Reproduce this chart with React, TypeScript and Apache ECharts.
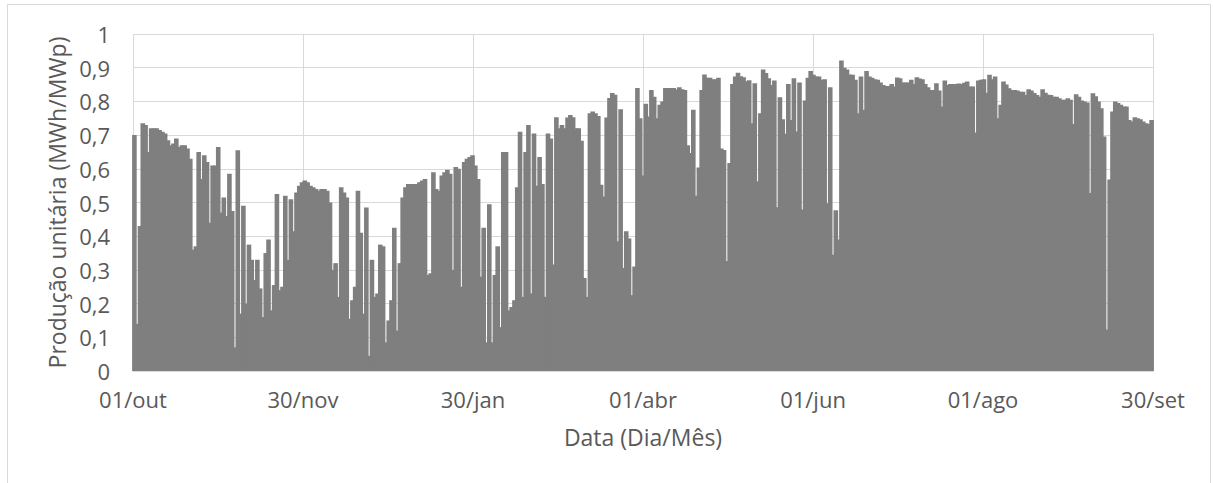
import React, { useEffect, useRef } from "react";
import * as echarts from "echarts";

// Daily peak unit production (MWh/MWp), one array per month, 01/out -> 30/set
const outubro = [0.70, 0.14, 0.43, 0.735, 0.73, 0.65, 0.72, 0.72, 0.72, 0.715, 0.71, 0.705, 0.685, 0.67, 0.675, 0.69, 0.665, 0.67, 0.67, 0.66, 0.63, 0.36, 0.37, 0.65, 0.57, 0.64, 0.62, 0.44, 0.61, 0.61, 0.665];
const novembro = [0.47, 0.515, 0.46, 0.585, 0.475, 0.07, 0.655, 0.17, 0.49, 0.2, 0.375, 0.33, 0.27, 0.33, 0.245, 0.16, 0.35, 0.39, 0.18, 0.255, 0.525, 0.24, 0.25, 0.52, 0.33, 0.51, 0.415, 0.53, 0.55, 0.56];
const dezembro = [0.565, 0.56, 0.55, 0.545, 0.54, 0.535, 0.54, 0.54, 0.535, 0.5, 0.3, 0.32, 0.22, 0.545, 0.53, 0.515, 0.155, 0.21, 0.25, 0.535, 0.41, 0.17, 0.485, 0.045, 0.33, 0.22, 0.23, 0.375, 0.37, 0.085, 0.15];
const janeiro = [0.21, 0.425, 0.12, 0.32, 0.515, 0.545, 0.555, 0.555, 0.555, 0.555, 0.56, 0.565, 0.57, 0.285, 0.29, 0.59, 0.54, 0.535, 0.58, 0.59, 0.597, 0.585, 0.30, 0.605, 0.60, 0.25, 0.62, 0.63, 0.635, 0.64, 0.61];
const fevereiro = [0.57, 0.28, 0.425, 0.085, 0.495, 0.085, 0.285, 0.37, 0.13, 0.65, 0.65, 0.18, 0.19, 0.21, 0.545, 0.71, 0.22, 0.65, 0.73, 0.23, 0.705, 0.55, 0.635, 0.555, 0.22, 0.705, 0.69, 0.316];
const marco = [0.753, 0.72, 0.73, 0.72, 0.752, 0.76, 0.753, 0.72, 0.72, 0.683, 0.276, 0.22, 0.765, 0.77, 0.765, 0.757, 0.553, 0.518, 0.752, 0.81, 0.825, 0.82, 0.385, 0.777, 0.306, 0.415, 0.393, 0.225, 0.31, 0.84, 0.75];
const abril = [0.58, 0.793, 0.755, 0.834, 0.814, 0.75, 0.79, 0.80, 0.84, 0.84, 0.84, 0.84, 0.835, 0.842, 0.836, 0.834, 0.67, 0.647, 0.775, 0.52, 0.604, 0.834, 0.88, 0.87, 0.87, 0.866, 0.866, 0.87, 0.66, 0.656];
const maio = [0.326, 0.617, 0.852, 0.874, 0.885, 0.875, 0.872, 0.86, 0.863, 0.735, 0.854, 0.563, 0.765, 0.895, 0.884, 0.869, 0.849, 0.862, 0.486, 0.812, 0.747, 0.704, 0.852, 0.745, 0.869, 0.711, 0.856, 0.479, 0.803, 0.87, 0.89];
const junho = [0.879, 0.874, 0.874, 0.864, 0.866, 0.498, 0.842, 0.345, 0.477, 0.39, 0.921, 0.90, 0.895, 0.88, 0.879, 0.864, 0.765, 0.874, 0.775, 0.89, 0.874, 0.87, 0.866, 0.864, 0.856, 0.849, 0.846, 0.846, 0.852, 0.844];
const julho = [0.871, 0.869, 0.856, 0.856, 0.856, 0.864, 0.852, 0.872, 0.868, 0.866, 0.852, 0.842, 0.834, 0.834, 0.854, 0.832, 0.785, 0.862, 0.849, 0.852, 0.852, 0.852, 0.853, 0.852, 0.855, 0.859, 0.844, 0.844, 0.708, 0.862, 0.864];
const agosto = [0.866, 0.826, 0.879, 0.866, 0.874, 0.75, 0.79, 0.859, 0.85, 0.839, 0.834, 0.834, 0.832, 0.829, 0.829, 0.819, 0.836, 0.832, 0.825, 0.819, 0.814, 0.836, 0.826, 0.82, 0.819, 0.814, 0.814, 0.809, 0.805, 0.805, 0.809];
const setembro = [0.805, 0.733, 0.821, 0.814, 0.803, 0.80, 0.797, 0.528, 0.824, 0.815, 0.80, 0.78, 0.696, 0.123, 0.568, 0.77, 0.80, 0.795, 0.79, 0.785, 0.785, 0.745, 0.74, 0.753, 0.75, 0.747, 0.74, 0.735, 0.733, 0.745];

const months = [outubro, novembro, dezembro, janeiro, fevereiro, marco, abril, maio, junho, julho, agosto, setembro];

const xTickLabels = ["01/out", "30/nov", "30/jan", "01/abr", "01/jun", "01/ago", "30/set"];
const yTickLabels = ["0", "0,1", "0,2", "0,3", "0,4", "0,5", "0,6", "0,7", "0,8", "0,9", "1"];
const xAxisTitle = "Data (Dia/Mês)";
const yAxisTitle = "Produção unitária (MWh/MWp)";

const HOURS_PER_DAY = 24;

export default function App() {
  const ref = useRef<HTMLDivElement>(null);

  useEffect(() => {
    if (!ref.current) return;
    const chart = echarts.init(ref.current, null, { renderer: "svg" });
    const daily = months.flat();
    const totalHours = daily.length * HOURS_PER_DAY;
    const step = totalHours / (xTickLabels.length - 1);
    const data = daily.map((v, i) => [i * HOURS_PER_DAY + HOURS_PER_DAY / 2, v]);
    const font = "'Open Sans', 'Noto Sans', sans-serif";
    const textColor = "#595959";
    const gridColor = "#d9d9d9";

    chart.setOption({
      animation: false,
      textStyle: { fontFamily: font },
      grid: { left: 133, top: 34, width: 1020, height: 337, containLabel: false },
      graphic: [
        {
          type: "rect",
          silent: true,
          z: -10,
          shape: { x: 7.5, y: 4.5, width: 1203, height: 500 },
          style: { fill: "none", stroke: gridColor, lineWidth: 1 },
        },
      ],
      xAxis: {
        type: "value",
        min: 0,
        max: totalHours,
        interval: step,
        axisLine: { show: true, lineStyle: { color: gridColor } },
        axisTick: { show: false },
        splitLine: { show: true, lineStyle: { color: gridColor, width: 1 } },
        axisLabel: {
          formatter: (v: number) => xTickLabels[Math.round(v / step)] ?? "",
          color: textColor,
          fontSize: 22,
          margin: 17,
          fontFamily: font,
          showMinLabel: true,
          showMaxLabel: true,
        },
        name: xAxisTitle,
        nameLocation: "middle",
        nameGap: 54,
        nameTextStyle: { color: textColor, fontSize: 23, fontFamily: font },
      },
      yAxis: {
        type: "value",
        min: 0,
        max: 1,
        interval: 0.1,
        axisLine: { show: false },
        axisTick: { show: false },
        splitLine: { show: true, lineStyle: { color: gridColor, width: 1 } },
        axisLabel: {
          formatter: (v: number) => yTickLabels[Math.round(v * 10)] ?? "",
          color: textColor,
          fontSize: 22,
          margin: 23,
          fontFamily: font,
        },
        name: yAxisTitle,
        nameLocation: "middle",
        nameRotate: 90,
        nameGap: 62,
        nameTextStyle: { color: textColor, fontSize: 23, fontFamily: font },
      },
      series: [
        {
          type: "bar",
          data,
          barWidth: 4.6,
          silent: true,
          itemStyle: { color: "#7f7f7f" },
        },
      ],
    });

    return () => chart.dispose();
  }, []);

  return (
    <div
      ref={ref}
      style={{ position: "absolute", left: 0, top: 0, width: 1213, height: 483 }}
    />
  );
}
